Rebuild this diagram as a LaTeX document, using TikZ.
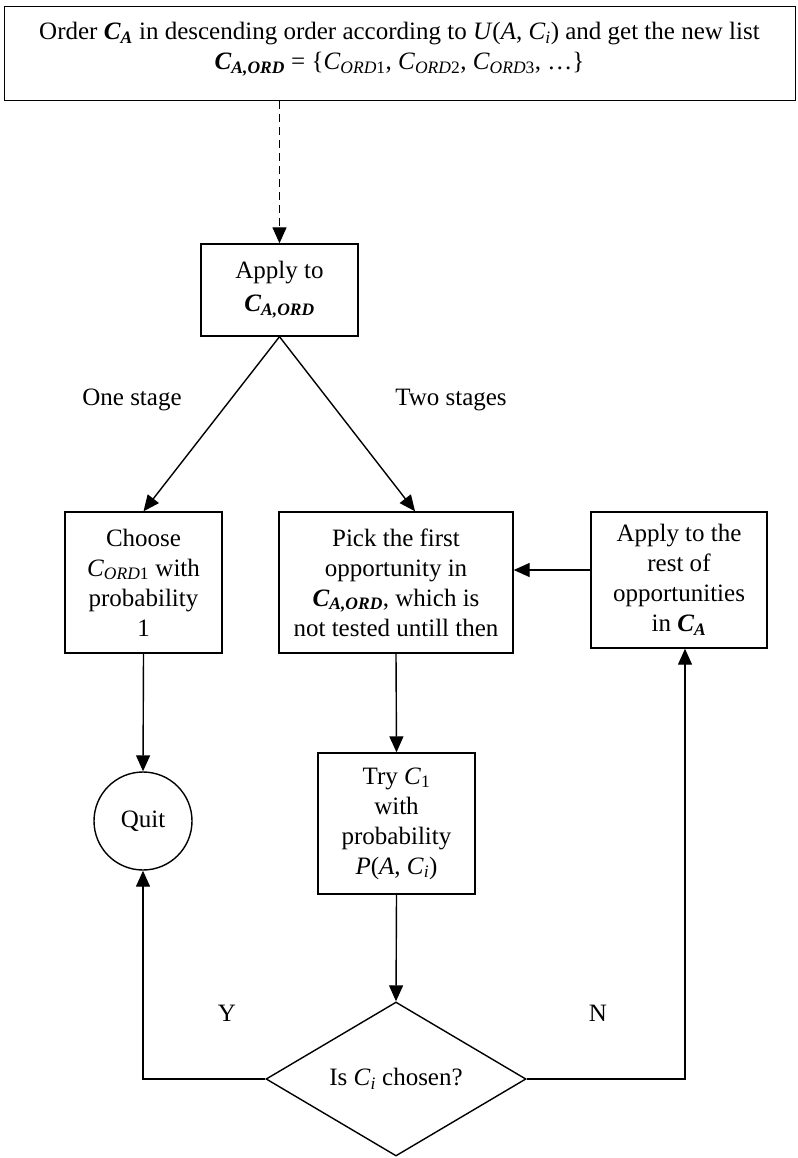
\documentclass[tikz,border=0pt]{standalone}
\usepackage{fontspec}
\setmainfont{Liberation Serif}
\usetikzlibrary{arrows.meta,shapes.geometric,calc}
% C with a subscript, all bold italic
\newcommand\bisub[2]{\textbf{\textit{#1}}\textsubscript{\textbf{\textit{#2}}}}
% italic C with a subscript
\newcommand\isub[2]{\textit{#1}\textsubscript{#2}}
\begin{document}
\begin{tikzpicture}[x=1pt,y=-1pt,
  font=\fontsize{25}{30}\selectfont,
  boxnode/.style={draw,line width=1.4pt,rectangle,align=center,inner sep=0pt},
  arr/.style={line width=1.4pt,-{Triangle[length=16pt,width=14pt]}},
  dasharr/.style={arr,dash pattern=on 8pt off 5pt},
  lbl/.style={inner sep=0pt}]
  \fill[white] (0,0) rectangle (797,1158);
  \useasboundingbox (0,0) rectangle (797,1158);

  % top box with the ordering rule
  \node[boxnode,minimum width=791pt,minimum height=94pt,anchor=north west] (top) at (4,6) {};
  \node[lbl,align=center,anchor=north] (toptext) at (399.5,22)
    {Order \bisub{C}{A} in descending order according to \textit{U}(\textit{A}, \isub{C}{\textit{i}}) and get the new list\\
     \bisub{C}{A,ORD} = \{\isub{C}{\textit{ORD}1}, \isub{C}{\textit{ORD}2}, \isub{C}{\textit{ORD}3}, \ldots\}};

  \node[boxnode,minimum width=157pt,minimum height=92pt] (apply) at (279.5,290)
    {Apply to\\[3pt]\bisub{C}{A,ORD}};

  \node[boxnode,minimum width=157pt,minimum height=141pt] (choose) at (143.5,582.5)
    {Choose\\\isub{C}{\textit{ORD}1} with\\probability\\1};
  \node[boxnode,minimum width=234pt,minimum height=141pt] (pick) at (396,582.5)
    {Pick the first\\opportunity in\\\bisub{C}{A,ORD}, which is\\not tested untill then};
  \node[boxnode,minimum width=176pt,minimum height=136pt] (rest) at (679,580)
    {Apply to the\\rest of\\opportunities\\in \bisub{C}{A}};

  \node[draw,circle,line width=1.4pt,minimum size=98pt,inner sep=0pt] (quit) at (143,821) {Quit};
  \node[boxnode,minimum width=157pt,minimum height=141pt] (try) at (396.5,823.5)
    {Try \isub{C}{1}\\with\\probability\\\textit{P}(\textit{A}, \isub{C}{\textit{i}})};

  \node[draw,diamond,line width=1.4pt,minimum width=260pt,minimum height=154pt,aspect=1.69,inner sep=0pt] (dia) at (396,1079)
    {Is \isub{C}{\textit{i}} chosen?};

  % branch labels
  \node[lbl] (one) at (132,400) {One stage};
  \node[lbl] (two) at (451,400) {Two stages};
  \node[lbl] (yes) at (227,1013) {Y};
  \node[lbl] (no) at (598,1013) {N};

  % connectors
  \draw[dasharr] (apply.north |- top.south) -- (apply.north);
  \draw[arr] (apply.south) -- (choose.north);
  \draw[arr] (apply.south) -- ($(pick.north west)!0.581!(pick.north east)$);
  \draw[arr] ([yshift=10pt]rest.west) -- ([yshift=10pt]rest.west -| pick.east);
  \draw[arr] (choose.south) -- (quit.north);
  \draw[arr] (pick.south) -- (try.north);
  \draw[arr] (try.south) -- (dia.north);
  \draw[arr] (dia.west) -| (quit.south);
  \draw[arr] (dia.east) -| ([xshift=6pt]rest.south);
\end{tikzpicture}
\end{document}
